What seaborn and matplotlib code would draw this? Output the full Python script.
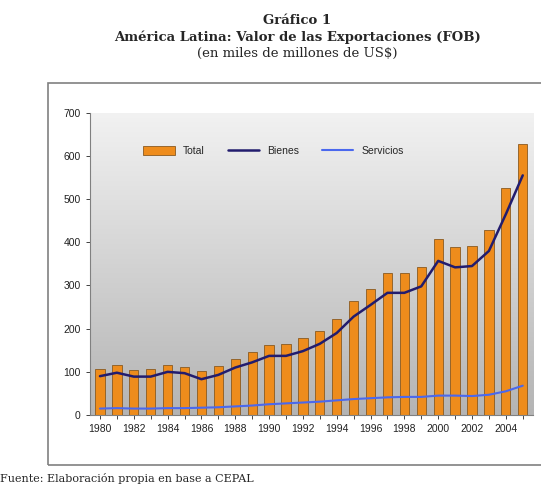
import numpy as np
import pandas as pd
import matplotlib
matplotlib.use("Agg")
import matplotlib.pyplot as plt
import seaborn as sns
from matplotlib.patches import Rectangle

years = list(range(1980, 2006))
total = [107, 116, 104, 106, 117, 112, 101, 113, 130, 147, 163, 164, 178,
         195, 222, 265, 292, 328, 328, 342, 407, 390, 392, 428, 525, 628]
bienes = [90, 98, 89, 89, 100, 97, 83, 93, 110, 122, 137, 137, 148,
          165, 190, 228, 255, 283, 283, 298, 357, 342, 345, 380, 465, 555]
servicios = [15, 16, 15, 15, 16, 16, 17, 18, 20, 22, 25, 27, 29,
             31, 34, 37, 39, 41, 42, 42, 45, 45, 44, 47, 55, 68]
tick_years = list(range(1980, 2005, 2))

df = pd.DataFrame({"Año": years, "Total": total, "Bienes": bienes, "Servicios": servicios})

sns.set_theme(style="white")
plt.rcParams["font.family"] = ["Liberation Sans", "DejaVu Sans"]

fig = plt.figure(figsize=(5.41, 4.86), dpi=100)
ax = fig.add_axes([0.166, 0.146, 0.819, 0.622])

# outer box around the chart
fig.patches.append(Rectangle((0.089, 0.043), 0.95, 0.786, transform=fig.transFigure,
                             fill=False, edgecolor="#808080", linewidth=1.2))

# gradient background
grad = np.linspace(0, 1, 256).reshape(-1, 1)
ax.imshow(grad, extent=[1979.4, 2005.6, 0, 700], aspect="auto",
          cmap=matplotlib.colors.LinearSegmentedColormap.from_list("g", ["#b4b4b4", "#f2f2f2"]),
          origin="lower", zorder=0)

sns.barplot(data=df, x="Año", y="Total", native_scale=True, color="#EE8C1C",
            edgecolor="#8a5a20", linewidth=0.6, width=0.55, saturation=1,
            ax=ax, label="Total", zorder=2)
sns.lineplot(data=df, x="Año", y="Bienes", color="#221C6E", linewidth=1.8,
             ax=ax, label="Bienes", zorder=3)
sns.lineplot(data=df, x="Año", y="Servicios", color="#4A68EE", linewidth=1.5,
             ax=ax, label="Servicios", zorder=3)

ax.set_xlim(1979.4, 2005.6)
ax.set_ylim(0, 700)
ax.set_yticks(range(0, 701, 100))
ax.set_xticks(tick_years)
ax.set_xticks(years, minor=True)
ax.set_xlabel("")
ax.set_ylabel("")
ax.tick_params(axis="both", labelsize=7.5, colors="#222222", length=3, width=0.6,
               direction="out", bottom=True, left=True)
ax.tick_params(axis="x", which="minor", length=3, width=0.6, bottom=True)
for s in ["top", "right"]:
    ax.spines[s].set_visible(False)
for s in ["left", "bottom"]:
    ax.spines[s].set_color("#808080")
    ax.spines[s].set_linewidth(0.8)

handles, labels = ax.get_legend_handles_labels()
order = [labels.index(n) for n in ["Total", "Bienes", "Servicios"]]
ax.legend([handles[i] for i in order], [labels[i] for i in order],
          loc="upper left", bbox_to_anchor=(0.1, 0.92), ncol=3, frameon=False,
          fontsize=7.5, handlelength=3.0, handleheight=0.9, columnspacing=2.2)

serif = ["DejaVu Serif"]
fig.text(0.55, 0.958, "Gráfico 1", ha="center", va="center", fontsize=9.5,
         fontweight="bold", family=serif)
fig.text(0.55, 0.924, "América Latina: Valor de las Exportaciones (FOB)", ha="center",
         va="center", fontsize=9.5, fontweight="bold", family=serif)
fig.text(0.55, 0.891, "(en miles de millones de US$)", ha="center", va="center",
         fontsize=9.5, family=serif)
fig.text(0.0, 0.008, "Fuente: Elaboración propia en base a CEPAL", ha="left",
         fontsize=8, family=serif)

fig.savefig("out.png", dpi=100)
